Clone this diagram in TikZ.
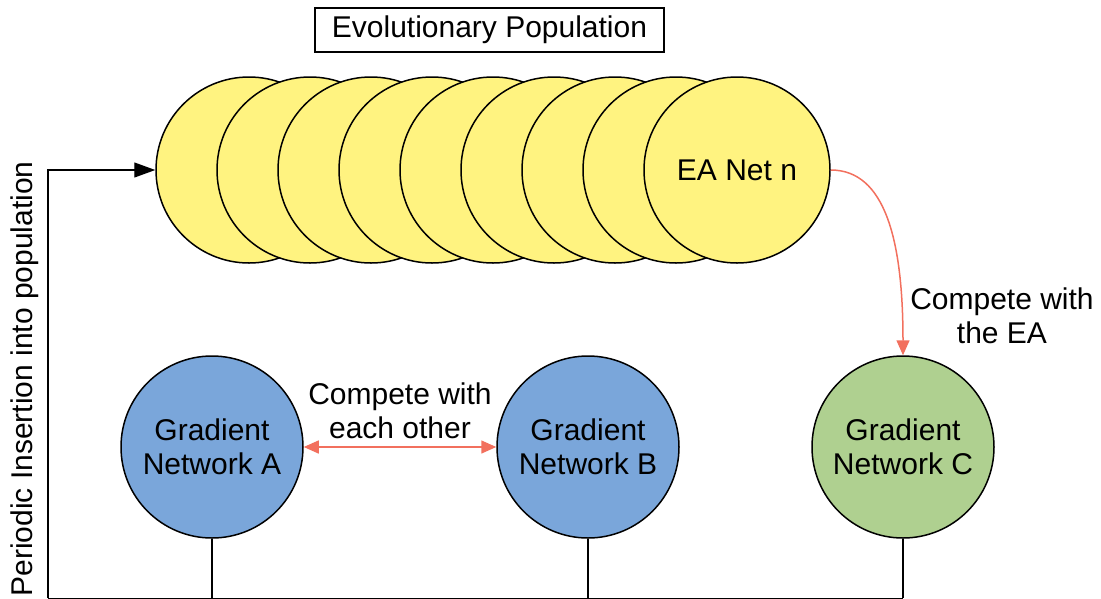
\documentclass[tikz,border=0pt]{standalone}
\usepackage{fontspec}
\setmainfont{Liberation Sans}
\usetikzlibrary{arrows.meta}
\definecolor{eayellow}{RGB}{255,243,128}
\definecolor{gblue}{RGB}{122,166,218}
\definecolor{ggreen}{RGB}{175,208,144}
\definecolor{redarrow}{RGB}{242,112,94}
\tikzset{
  txt/.style={font=\fontsize{30}{34.5}\selectfont, align=center, inner sep=0pt},
  eanet/.style={circle, draw=black, line width=1.5pt, fill=eayellow, minimum size=186pt, inner sep=0pt, txt},
  gnet/.style={circle, draw=black, line width=1.5pt, minimum size=182pt, inner sep=0pt, txt},
  feed/.style={draw=black, line width=1.2pt},
  compete/.style={draw=redarrow, line width=1.5pt},
  redtip/.style={-{Triangle[length=15pt,width=13pt]}},
}
\begin{document}
\begin{tikzpicture}[x=1pt,y=-1pt]
\useasboundingbox (0,0) rectangle (1101,598);
\node[txt, draw=black, line width=1.2pt, minimum width=349pt, minimum height=44pt] (title) at (489.5,30) {Evolutionary Population};
\foreach \i in {1,...,8} {
  \node[eanet] (ea\i) at ({249+(\i-1)*61},170) {};
}
\node[eanet] (ean) at (737,170) {EA Net n};
\node[gnet, fill=gblue] (ga) at (212,447) {Gradient\\Network A};
\node[gnet, fill=gblue] (gb) at (588,447) {Gradient\\Network B};
\node[gnet, fill=ggreen] (gc) at (903,447) {Gradient\\Network C};
\coordinate (la) at (212,598.3);
\coordinate (lb) at (588,598.3);
\coordinate (lc) at (903,598.3);
\coordinate (ll) at (48,598.3);
\coordinate (lt) at (48,170);
\draw[feed] (ga.south) -- (la);
\draw[feed] (gb.south) -- (lb);
\draw[feed] (gc.south) -- (lc);
\draw[feed] (lc) -- (ll);
\draw[feed, -{Triangle[length=21pt,width=15pt]}] (ll) -- (lt) -- (ea1.west);
\node[txt, rotate=90] (ins) at (25,379) {Periodic Insertion into population};
\draw[compete, {Triangle[length=15pt,width=13pt]}-{Triangle[length=15pt,width=13pt]}] (ga.east) -- (gb.west);
\node[txt] (lab1) at (400,411) {Compete with\\each other};
\draw[compete, redtip] (ean.east) .. controls (885,170) and (903,240) .. (gc.north);
\node[txt] (lab2) at (1002,316) {Compete with\\the EA};
\end{tikzpicture}
\end{document}
